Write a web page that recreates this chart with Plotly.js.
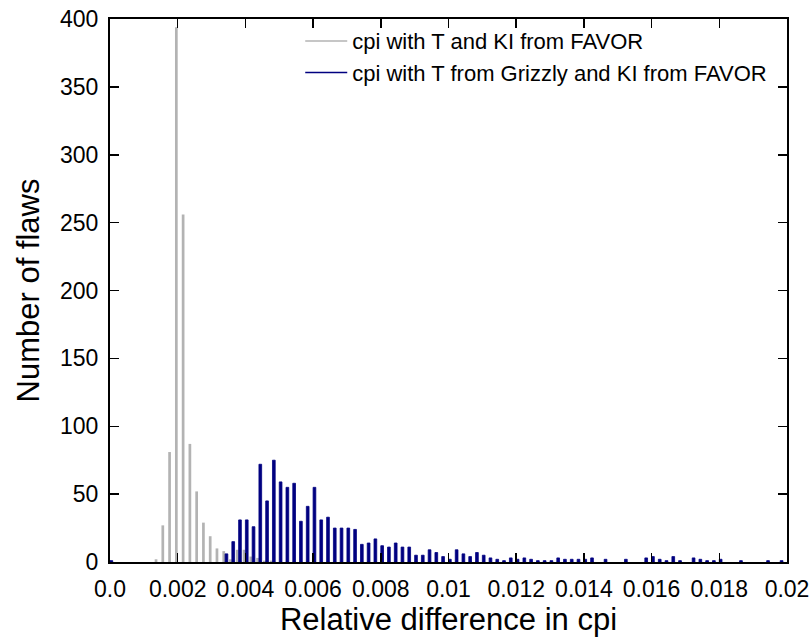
<!DOCTYPE html>
<html>
<head>
<meta charset="utf-8">
<script src="https://cdn.plot.ly/plotly-3.0.1.min.js"></script>
<style>
html, body { margin: 0; padding: 0; background: #ffffff; }
#chart { width: 812px; height: 642px; }
</style>
</head>
<body>
<div id="chart"></div>
<script>
// Bin centres (relative difference in cpi) and counts
var grayX = [0.0014, 0.0016, 0.0018, 0.0020, 0.0022, 0.0024, 0.0026, 0.0028, 0.0030, 0.0032,
             0.0034, 0.0036, 0.0038, 0.0040, 0.0042, 0.0044, 0.0046, 0.0048];
var grayY = [2, 27, 81, 394, 256, 87, 52, 29, 19, 10,
             8, 2, 9, 9, 4, 3, 1, 1];

var blueX = [0.0000,
             0.0034, 0.0036, 0.0038, 0.0040, 0.0042, 0.0044, 0.0046, 0.0048, 0.0050, 0.0052,
             0.0054, 0.0056, 0.0058, 0.0060, 0.0062, 0.0064, 0.0066, 0.0068, 0.0070, 0.0072,
             0.0074, 0.0076, 0.0078, 0.0080, 0.0082, 0.0084, 0.0086, 0.0088, 0.0090, 0.0092,
             0.0094, 0.0096, 0.0098, 0.0100, 0.0102, 0.0104, 0.0106, 0.0108, 0.0110, 0.0112,
             0.0114, 0.0116, 0.0118, 0.0120, 0.0122, 0.0124, 0.0126, 0.0128, 0.0130, 0.0132,
             0.0134, 0.0136, 0.0138, 0.0140, 0.0142, 0.0146, 0.0152, 0.0158, 0.0160, 0.0162,
             0.0164, 0.0166, 0.0168, 0.0172, 0.0174, 0.0176, 0.0178, 0.0180, 0.0186, 0.0194,
             0.0198];
var blueY = [1,
             6, 15, 31, 31, 26, 72, 45, 75, 59, 55,
             58, 30, 41, 55, 31, 33, 25, 25, 25, 24,
             13, 14, 17, 12, 11, 14, 11, 11, 5, 5,
             9, 7, 4, 2, 9, 6, 4, 7, 5, 3,
             2, 1, 3, 2, 3, 2, 1, 1, 1, 3,
             2, 2, 2, 2, 3, 2, 2, 3, 4, 2,
             1, 4, 1, 3, 2, 1, 1, 2, 1, 1,
             1];

var xTickVals = [0, 0.002, 0.004, 0.006, 0.008, 0.01, 0.012, 0.014, 0.016, 0.018, 0.02];
var xTickText = ["0.0", "0.002", "0.004", "0.006", "0.008", "0.01", "0.012", "0.014", "0.016", "0.018", "0.02"];
var yTickVals = [0, 50, 100, 150, 200, 250, 300, 350, 400];

var seriesNames = ["cpi with T and KI from FAVOR", "cpi with T from Grizzly and KI from FAVOR"];
var grayColor = "#b3b3b3";
var blueColor = "#000080";

var traces = [
  {
    type: "bar", x: grayX, y: grayY, name: seriesNames[0], showlegend: false,
    width: 0.00008, offset: -0.00008,
    marker: { color: grayColor, line: { width: 0 } }
  },
  {
    type: "bar", x: blueX, y: blueY, name: seriesNames[1], showlegend: false,
    width: 0.00008, offset: 0,
    marker: { color: blueColor, line: { width: 0.8, color: blueColor } }
  },
  {
    type: "scatter", mode: "lines", x: [null], y: [null], name: seriesNames[0],
    line: { color: grayColor, width: 1.5 }, hoverinfo: "skip"
  },
  {
    type: "scatter", mode: "lines", x: [null], y: [null], name: seriesNames[1],
    line: { color: blueColor, width: 1.5 }, hoverinfo: "skip"
  }
];

var fontFam = "Liberation Sans, Arial, Helvetica, sans-serif";

var layout = {
  width: 812, height: 642,
  margin: { l: 110, r: 25, t: 19, b: 80 },
  paper_bgcolor: "#ffffff", plot_bgcolor: "#ffffff",
  barmode: "overlay",
  font: { family: fontFam, color: "#000000", size: 23 },
  showlegend: true,
  legend: {
    x: 0.281, xanchor: "left", y: 0.998, yanchor: "top",
    bgcolor: "rgba(0,0,0,0)", borderwidth: 0,
    font: { family: fontFam, size: 22, color: "#000000" },
    tracegroupgap: 0, itemwidth: 42
  },
  xaxis: {
    range: [0, 0.02], tickmode: "array", tickvals: xTickVals, ticktext: xTickText,
    ticks: "inside", ticklen: 9, tickwidth: 1.5, tickcolor: "#000000",
    showline: true, linewidth: 2, linecolor: "#000000", mirror: "allticks",
    showgrid: false, zeroline: false,
    tickfont: { family: fontFam, size: 23, color: "#000000" },
    ticklabelstandoff: 5,
    title: { text: "Relative difference in cpi", font: { family: fontFam, size: 31, color: "#000000" }, standoff: 6 }
  },
  yaxis: {
    range: [0, 400], tickmode: "array", tickvals: yTickVals,
    ticks: "inside", ticklen: 9, tickwidth: 1.5, tickcolor: "#000000",
    showline: true, linewidth: 2, linecolor: "#000000", mirror: "allticks",
    showgrid: false, zeroline: false,
    tickfont: { family: fontFam, size: 23, color: "#000000" },
    ticklabelstandoff: 5,
    title: { text: "Number of flaws", font: { family: fontFam, size: 31, color: "#000000" }, standoff: 11 }
  }
};

Plotly.newPlot("chart", traces, layout, { displayModeBar: false, staticPlot: true });
</script>
</body>
</html>
